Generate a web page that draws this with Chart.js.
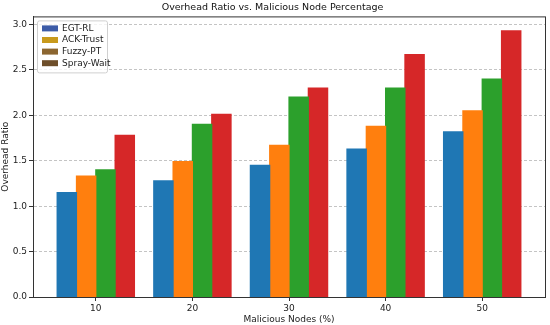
<!DOCTYPE html>
<html>
<head>
<meta charset="utf-8">
<script src="https://cdn.jsdelivr.net/npm/chart.js@4"></script>
<style>
  html, body { margin: 0; padding: 0; background: #fff; }
  #wrap { width: 550px; height: 325px; }
</style>
</head>
<body>
<div id="wrap"><canvas id="chart" width="550" height="325"></canvas></div>
<script>
const categories = [10, 20, 30, 40, 50];
const egtRl = [1.15, 1.28, 1.45, 1.63, 1.82];
const ackTrust = [1.33, 1.49, 1.67, 1.88, 2.05];
const fuzzyPt = [1.40, 1.90, 2.20, 2.30, 2.40];
const sprayWait = [1.78, 2.01, 2.30, 2.67, 2.93];
const yTicks = [0, 0.5, 1.0, 1.5, 2.0, 2.5, 3.0];

const seriesNames = ['EGT-RL', 'ACK-Trust', 'Fuzzy-PT', 'Spray-Wait'];
const barColors = ['#1f77b4', '#ff7f0e', '#2ca02c', '#d62728'];
const legendColors = ['#3d5ca8', '#c89a1c', '#8c6630', '#6e4e2a'];

const toPoints = vals => vals.map((v, i) => ({ x: categories[i], y: v }));

const frame = {
  id: 'frame',
  afterDraw(chart) {
    const { ctx, chartArea: a } = chart;
    ctx.save();
    ctx.strokeStyle = '#333';
    ctx.lineWidth = 1;
    ctx.strokeRect(a.left + 0.5, a.top + 0.5, a.right - a.left, a.bottom - a.top);

    // legend, upper left inside the axes
    const x0 = a.left + 4, y0 = a.top + 4, w = 70, h = 52;
    ctx.fillStyle = 'rgba(255,255,255,0.8)';
    ctx.strokeStyle = '#d0d0d0';
    ctx.beginPath();
    ctx.roundRect(x0 + 0.5, y0 + 0.5, w, h, 2);
    ctx.fill();
    ctx.stroke();
    ctx.font = '9px "DejaVu Sans"';
    ctx.textBaseline = 'middle';
    chart.data.datasets.forEach((ds, i) => {
      const cy = y0 + 8 + i * 11.6;
      ctx.fillStyle = legendColors[i];
      ctx.fillRect(x0 + 5, cy - 3, 16, 6);
      ctx.fillStyle = '#222';
      ctx.fillText(ds.label, x0 + 25, cy);
    });
    ctx.restore();
  }
};

new Chart(document.getElementById('chart'), {
  type: 'bar',
  data: {
    datasets: [
      { label: seriesNames[0], data: toPoints(egtRl), backgroundColor: barColors[0] },
      { label: seriesNames[1], data: toPoints(ackTrust), backgroundColor: barColors[1] },
      { label: seriesNames[2], data: toPoints(fuzzyPt), backgroundColor: barColors[2] },
      { label: seriesNames[3], data: toPoints(sprayWait), backgroundColor: barColors[3] }
    ]
  },
  options: {
    responsive: false,
    animation: false,
    layout: { padding: { left: 0, right: 5, top: 0, bottom: 0 } },
    datasets: { bar: { categoryPercentage: 0.8, barPercentage: 1.0, borderWidth: 0, inflateAmount: 0.6 } },
    plugins: {
      legend: { display: false },
      tooltip: { enabled: false },
      title: {
        display: true,
        text: 'Overhead Ratio vs. Malicious Node Percentage',
        color: '#111',
        font: { family: 'DejaVu Sans', size: 9.5, weight: 'normal' },
        padding: { top: 2, bottom: 3 }
      }
    },
    scales: {
      x: {
        type: 'linear',
        offset: false,
        min: 3.5,
        max: 56.5,
        afterBuildTicks: s => { s.ticks = categories.map(v => ({ value: v })); },
        afterFit: s => { s.height = 28; },
        grid: { offset: false, drawOnChartArea: false, tickLength: 4, tickColor: '#333' },
        border: { color: '#333' },
        ticks: { color: '#222', padding: 2, font: { family: 'DejaVu Sans', size: 9 } },
        title: {
          display: true,
          text: 'Malicious Nodes (%)',
          color: '#222',
          padding: { top: 0, bottom: 0 },
          font: { family: 'DejaVu Sans', size: 9 }
        }
      },
      y: {
        min: 0,
        max: 3.09,
        afterBuildTicks: s => { s.ticks = yTicks.map(v => ({ value: v })); },
        afterFit: s => { s.width = 33; },
        grid: {
          color: '#c4c4c4',
          tickLength: 4,
          tickColor: '#333',
          tickBorderDash: []
        },
        border: { color: '#333', dash: [3, 2] },
        ticks: {
          color: '#222',
          padding: 2,
          font: { family: 'DejaVu Sans', size: 9 },
          callback: v => Number(v).toFixed(1)
        },
        title: {
          display: true,
          text: 'Overhead Ratio',
          color: '#222',
          padding: { top: 0, bottom: 2 },
          font: { family: 'DejaVu Sans', size: 9 }
        }
      }
    }
  },
  plugins: [frame]
});
</script>
</body>
</html>
